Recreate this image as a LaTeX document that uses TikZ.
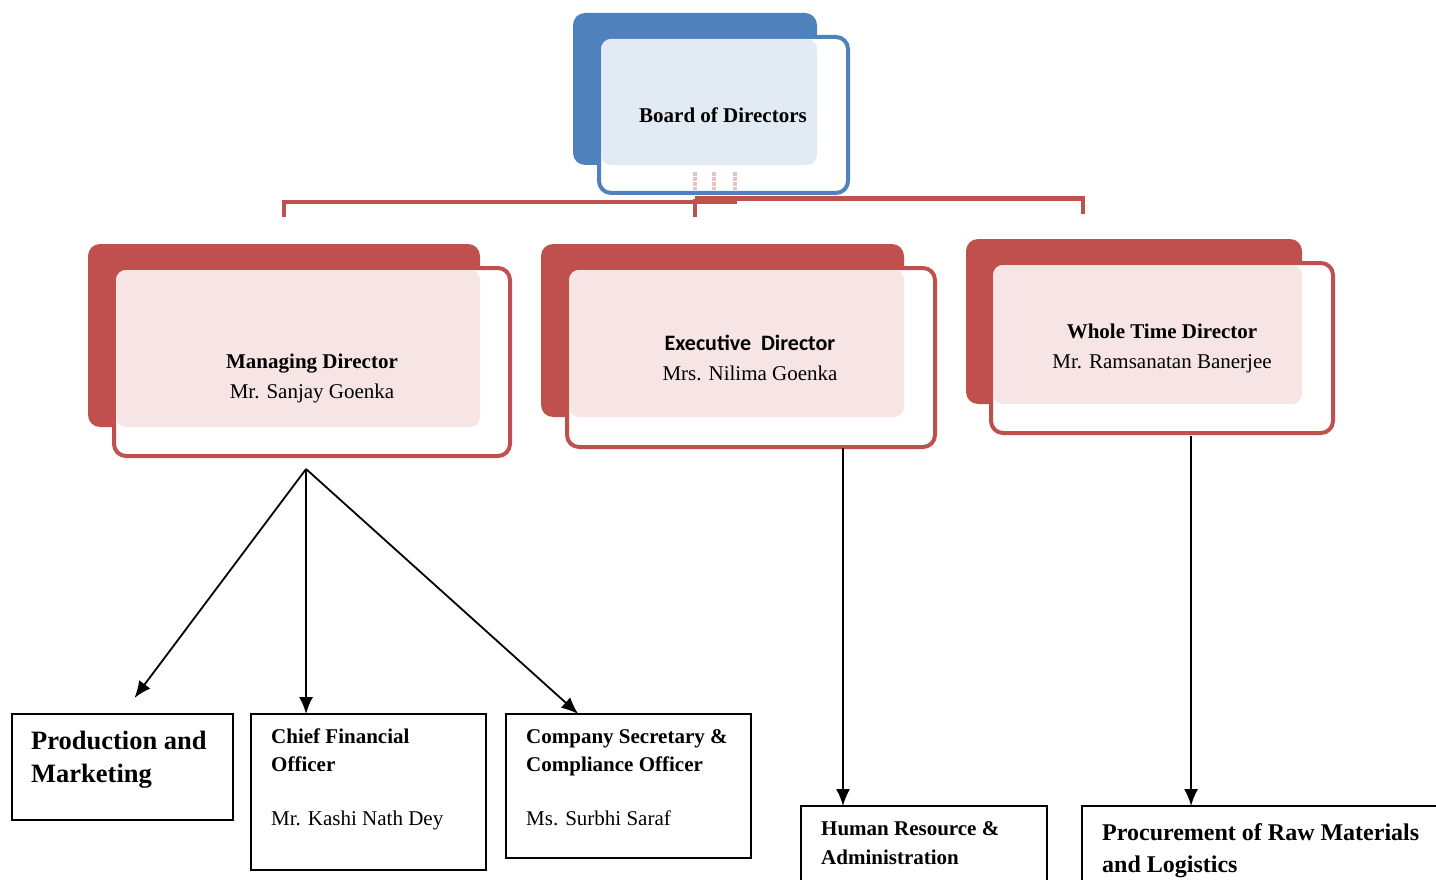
\documentclass[tikz,border=0pt]{standalone}
\usepackage{fontspec}
\setmainfont{Liberation Serif}
\newfontfamily\calibfont{Carlito}
\usetikzlibrary{calc,arrows.meta}
\definecolor{dirred}{HTML}{C0504D}
\definecolor{dirblue}{HTML}{4F81BD}
\definecolor{redtint}{HTML}{F7E4E4}
\definecolor{bluetint}{HTML}{E2EAF4}

\begin{document}
\begin{tikzpicture}[x=1pt,y=-1pt,
	back/.style={rounded corners=12pt, fill=#1, anchor=north west, inner sep=0pt, outer sep=0pt},
	front/.style={rounded corners=12pt, draw=#1, line width=4pt, fill=white, anchor=north west, inner sep=0pt, outer sep=0pt},
	tint/.style={rounded corners=10pt, fill=#1, anchor=north west, inner sep=0pt, outer sep=0pt},
	title/.style={font=\fontsize{21}{30}\selectfont, align=center, inner sep=0pt},
	unit/.style={draw, line width=1.6pt, anchor=north west, inner sep=0pt, outer sep=0pt},
	unittext/.style={font=\fontsize{21}{28}\selectfont, align=left, anchor=north west, inner sep=0pt},
	arr/.style={-{Latex[length=17pt,width=14pt]}, line width=1.8pt},
	bracket/.style={dirred, line width=4.5pt}]
				\useasboundingbox (0,0) rectangle (1436,880);
				\node[back=dirblue, minimum width=244pt, minimum height=152pt] (bdb) at (573,13) {};
				\node[front=dirblue, minimum width=249pt, minimum height=156pt] (bdf) at (599,37) {};
				\node[tint=bluetint, minimum width=216pt, minimum height=126pt] (bdt) at (601,39) {};
				\node[title] (bd) at (723,115) {\textbf{Board of Directors}};
				\foreach \sx in {695,714,735}
					\draw[dirred!35, line width=4pt, densely dotted] (\sx,172) -- (\sx,190);
				\node[back=dirred, minimum width=392pt, minimum height=183pt] (mdb) at (88,244) {};
				\node[front=dirred, minimum width=396pt, minimum height=188pt] (mdf) at (114,268) {};
				\node[tint=redtint, minimum width=364pt, minimum height=157pt] (mdt) at (116,270) {};
				\node[title] (md) at (312,378) {\textbf{Managing Director}\\Mr. Sanjay Goenka};
				\node[back=dirred, minimum width=363pt, minimum height=173pt] (edb) at (541,244) {};
				\node[front=dirred, minimum width=368pt, minimum height=179pt] (edf) at (567,268) {};
				\node[tint=redtint, minimum width=335pt, minimum height=147pt] (edt) at (569,270) {};
				\node[title] (ed) at (750,358) {{\calibfont\bfseries\fontsize{22}{30}\selectfont Executive\ \ Director}\\Mrs. Nilima Goenka};
				\node[back=dirred, minimum width=336pt, minimum height=165pt] (wtb) at (966,239) {};
				\node[front=dirred, minimum width=342pt, minimum height=170pt] (wtf) at (991,263) {};
				\node[tint=redtint, minimum width=309pt, minimum height=139pt] (wtt) at (993,265) {};
				\node[title] (wt) at (1162,348) {\textbf{Whole Time Director}\\Mr. Ramsanatan Banerjee};
				\draw[bracket] (mdb.north |- 0,217) -- (mdb.north |- 0,202) -- (737,202);
				\draw[bracket] (bdb.south |- 0,217) -- (bdb.south |- 0,199);
				\draw[bracket] (695,198.5) -- (1083,198.5) -- (1083,214);
				\node[unit, minimum width=221pt, minimum height=106pt] (pm) at (12,714) {};
				\node[unittext, font=\fontsize{26.5}{33}\selectfont\bfseries] (pmt) at (31,731) {Production and\\Marketing};
				\node[unit, minimum width=235pt, minimum height=156pt] (cfo) at (251,714) {};
				\node[unittext] (cfot) at (271,729) {\textbf{Chief Financial}\\\textbf{Officer}\\[26pt]Mr. Kashi Nath Dey};
				\node[unit, minimum width=245pt, minimum height=144pt] (cs) at (506,714) {};
				\node[unittext] (cst) at (526,729) {\textbf{Company Secretary \&}\\\textbf{Compliance Officer}\\[26pt]Ms. Surbhi Saraf};
				\node[unit, minimum width=246pt, minimum height=100pt] (hr) at (801,806) {};
				\node[unittext, font=\fontsize{21}{29}\selectfont\bfseries] (hrt) at (821,821) {Human Resource \&\\Administration};
				\node[unit, minimum width=380pt, minimum height=100pt] (proc) at (1082,806) {};
				\node[unittext, font=\fontsize{24}{32}\selectfont\bfseries] (proct) at (1102,823) {Procurement of Raw Materials\\and Logistics};
				\coordinate (mdfoot) at ($(mdf.south west)!0.485!(mdf.south east)+(0,13)$);
				\draw[arr, shorten >=20pt] (mdfoot) -- (pm.north);
				\draw[arr] (mdfoot) -- (mdfoot |- cfo.north);
				\draw[arr] (mdfoot) -- ($(cs.north west)!0.295!(cs.north east)$);
				\coordinate (edfoot) at ($(edf.south west)!0.75!(edf.south east)+(0,1)$);
				\draw[arr] (edfoot) -- (edfoot |- hr.north);
				\coordinate (wtfoot) at ($(wtf.south west)!0.585!(wtf.south east)+(0,3)$);
				\draw[arr] (wtfoot) -- (wtfoot |- proc.north);
\end{tikzpicture}
\end{document}
